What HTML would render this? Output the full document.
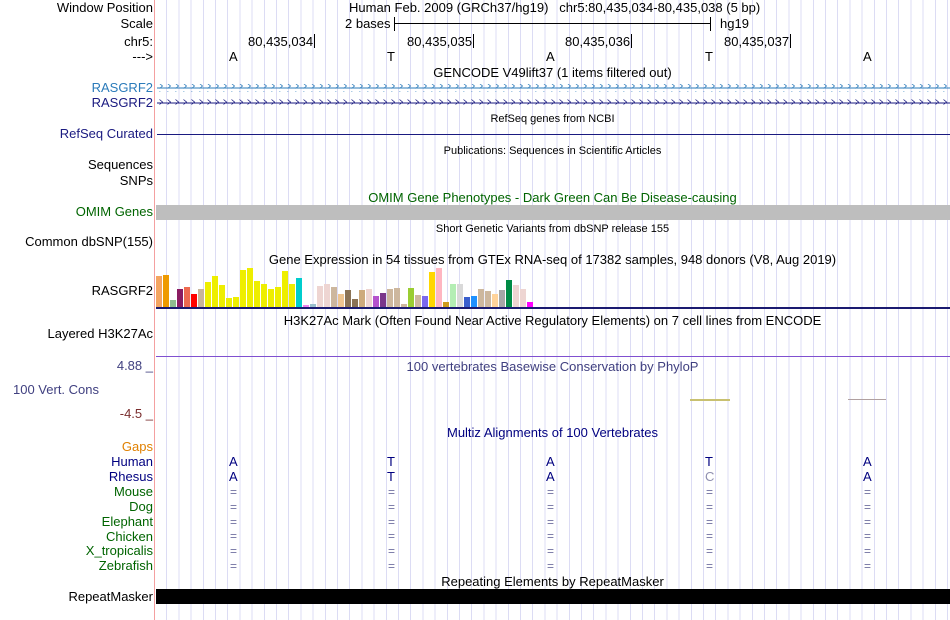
<!DOCTYPE html>
<html><head><meta charset="utf-8"><style>
body{margin:0;width:950px;height:620px;background:#fff;position:relative;overflow:hidden;font-family:"Liberation Sans",sans-serif;font-size:13px;color:#000}
.g{position:absolute;left:155px;top:0;width:795px;height:620px;background:repeating-linear-gradient(90deg,transparent 0,transparent 11.2px,#dcdcf4 11.2px,#dcdcf4 12.2px)}
.rl{position:absolute;left:154px;top:0;width:1px;height:620px;background:#f4a0a0}
.l{position:absolute;right:797px;white-space:nowrap;line-height:14px}
.t{position:absolute;white-space:nowrap;line-height:14px}
.c{position:absolute;left:155px;width:795px;text-align:center;white-space:nowrap;line-height:14px}
.s{font-size:11px}
.b{position:absolute;width:6px}
.tk{position:absolute;width:1px;height:14px;background:#000}
</style></head><body>
<div class="g"></div><div class="rl"></div>
<div class="l" style="top:1px">Window Position</div>
<div class="l" style="top:17px">Scale</div>
<div class="l" style="top:35px">chr5:</div>
<div class="l" style="top:50px">---&gt;</div>
<div class="l" style="top:81px;color:#2b7bba">RASGRF2</div>
<div class="l" style="top:96px;color:#1a1a80">RASGRF2</div>
<div class="l" style="top:127px;color:#1a1a80">RefSeq Curated</div>
<div class="l" style="top:158px">Sequences</div>
<div class="l" style="top:174px">SNPs</div>
<div class="l" style="top:205px;color:#006400">OMIM Genes</div>
<div class="l" style="top:235px">Common dbSNP(155)</div>
<div class="l" style="top:284px">RASGRF2</div>
<div class="l" style="top:327px">Layered H3K27Ac</div>
<div class="l" style="top:359px;color:#404080">4.88 _</div>
<div class="t" style="left:13px;top:383px;color:#404080">100 Vert. Cons</div>
<div class="l" style="top:407px;color:#7a2e2e">-4.5 _</div>
<div class="l" style="top:440px;color:#e08000">Gaps</div>
<div class="l" style="top:455px;color:#000080">Human</div>
<div class="l" style="top:470px;color:#000080">Rhesus</div>
<div class="l" style="top:485px;color:#006400">Mouse</div>
<div class="l" style="top:500px;color:#006400">Dog</div>
<div class="l" style="top:515px;color:#006400">Elephant</div>
<div class="l" style="top:530px;color:#006400">Chicken</div>
<div class="l" style="top:544px;color:#006400">X_tropicalis</div>
<div class="l" style="top:559px;color:#006400">Zebrafish</div>
<div class="l" style="top:590px">RepeatMasker</div>

<div class="t" style="left:349px;top:1px">Human Feb. 2009 (GRCh37/hg19)&nbsp;&nbsp; chr5:80,435,034-80,435,038 (5 bp)</div>
<div class="t" style="left:345px;top:17px">2 bases</div>
<div class="tk" style="left:394px;top:17px"></div><div class="tk" style="left:710px;top:17px"></div>
<div style="position:absolute;left:394px;top:23px;width:317px;height:1px;background:#000"></div>
<div class="t" style="left:720px;top:17px">hg19</div>
<div class="t" style="left:248px;top:35px">80,435,034</div><div class="tk" style="left:314px;top:34px"></div>
<div class="t" style="left:407px;top:35px">80,435,035</div><div class="tk" style="left:473px;top:34px"></div>
<div class="t" style="left:565px;top:35px">80,435,036</div><div class="tk" style="left:631px;top:34px"></div>
<div class="t" style="left:724px;top:35px">80,435,037</div><div class="tk" style="left:790px;top:34px"></div>
<div class="t" style="left:229px;top:50px">A</div><div class="t" style="left:387px;top:50px">T</div><div class="t" style="left:546px;top:50px">A</div><div class="t" style="left:705px;top:50px">T</div><div class="t" style="left:863px;top:50px">A</div>
<div class="c" style="top:66px">GENCODE V49lift37 (1 items filtered out)</div>
<svg style="position:absolute;left:157px;top:82px" width="793" height="26">
<defs>
<pattern id="p1" width="8" height="8" patternUnits="userSpaceOnUse"><path d="M2.5 1.5 L5.5 4 L2.5 6.5" fill="none" stroke="#2b7bba" stroke-width="0.8"/></pattern>
<pattern id="p2" width="8" height="8" patternUnits="userSpaceOnUse"><path d="M2.5 1.5 L5.5 4 L2.5 6.5" fill="none" stroke="#1a1a80" stroke-width="0.8"/></pattern>
</defs>
<rect x="0" y="2" width="793" height="8" fill="url(#p1)"/>
<rect x="0" y="5.5" width="793" height="1" fill="#2b7bba"/>
<rect x="0" y="17" width="793" height="8" fill="url(#p2)"/>
<rect x="0" y="20.5" width="793" height="1" fill="#1a1a80"/>
</svg>
<div class="c s" style="top:112px">RefSeq genes from NCBI</div>
<div style="position:absolute;left:157px;top:134px;width:793px;height:1px;background:#1a1a80"></div>
<div class="c s" style="top:144px">Publications: Sequences in Scientific Articles</div>
<div class="c" style="top:191px;color:#006400">OMIM Gene Phenotypes - Dark Green Can Be Disease-causing</div>
<div style="position:absolute;left:156px;top:205px;width:794px;height:15px;background:#bebebe"></div>
<div class="c s" style="top:222px">Short Genetic Variants from dbSNP release 155</div>
<div class="c" style="top:253px">Gene Expression in 54 tissues from GTEx RNA-seq of 17382 samples, 948 donors (V8, Aug 2019)</div>
<div id="bars"></div>
<div style="position:absolute;left:156px;top:307px;width:794px;height:2px;background:#1a1a70"></div>
<div class="c" style="top:314px">H3K27Ac Mark (Often Found Near Active Regulatory Elements) on 7 cell lines from ENCODE</div>
<div style="position:absolute;left:156px;top:356px;width:794px;height:1px;background:#8050d0"></div>
<div class="c" style="top:360px;color:#404080">100 vertebrates Basewise Conservation by PhyloP</div>
<div style="position:absolute;left:690px;top:399px;width:40px;height:2px;background:#c8c070"></div>
<div style="position:absolute;left:848px;top:399px;width:38px;height:1px;background:#b0a0a0"></div>
<div class="c" style="top:426px;color:#000080">Multiz Alignments of 100 Vertebrates</div>
<div id="mz"></div>
<div class="c" style="top:575px">Repeating Elements by RepeatMasker</div>
<div style="position:absolute;left:156px;top:589px;width:794px;height:15px;background:#000"></div>
<script>
var h=[90,95,20,53,60,38,53,75,92,65,27,30,110,116,77,68,53,60,107,68,86,5,8,62,68,59,38,50,23,50,53,32,41,53,56,8,56,35,32,104,116,14,68,68,29,32,53,47,38,50,80,65,53,14];
var c=["#F4A460","#EE9A00","#8FBC8F","#8B1C62","#EE6A50","#FF0000","#C8B49A","#EEEE00","#EEEE00","#EEEE00","#EEEE00","#EEEE00","#EEEE00","#EEEE00","#EEEE00","#EEEE00","#EEEE00","#EEEE00","#EEEE00","#EEEE00","#00CDCD","#EE82EE","#9AC0CD","#EED5D2","#EED5D2","#CDB79E","#EEC591","#8B7355","#8B7355","#CDAA7D","#EED5D2","#B452CD","#7A378B","#CDB79E","#CDB79E","#CDB79E","#9ACD32","#CDB79E","#7B68EE","#FFD700","#FFB6C1","#CD9B1D","#B4EEB4","#D9D9D9","#3A5FCD","#1E90FF","#CDB79E","#CDB79E","#FFD39B","#A6A6A6","#008B45","#EED5D2","#EED5D2","#FF00FF"];
var s="";for(var i=0;i<h.length;i++){var hh=h[i]*0.34;s+='<div class="b" style="left:'+(156+i*7.0).toFixed(1)+'px;top:'+(307-hh).toFixed(1)+'px;height:'+hh.toFixed(1)+'px;background:'+c[i]+'"></div>';}
document.getElementById("bars").innerHTML=s;
var xs=[229,387,546,705,863],hu=["A","T","A","T","A"],rh=["A","T","A","C","A"],m="";
for(var k=0;k<5;k++){m+='<div class="t" style="left:'+xs[k]+'px;top:455px;color:#000080">'+hu[k]+'</div>';
m+='<div class="t" style="left:'+xs[k]+'px;top:470px;color:'+(k==3?'#9090b0':'#000080')+'">'+rh[k]+'</div>';
for(var r=0;r<6;r++)m+='<div class="t" style="left:'+(xs[k]+1)+'px;top:'+(485+r*14.8)+'px;color:#7070a0;font-size:12px">=</div>';}
document.getElementById("mz").innerHTML=m;
</script>
</body></html>
